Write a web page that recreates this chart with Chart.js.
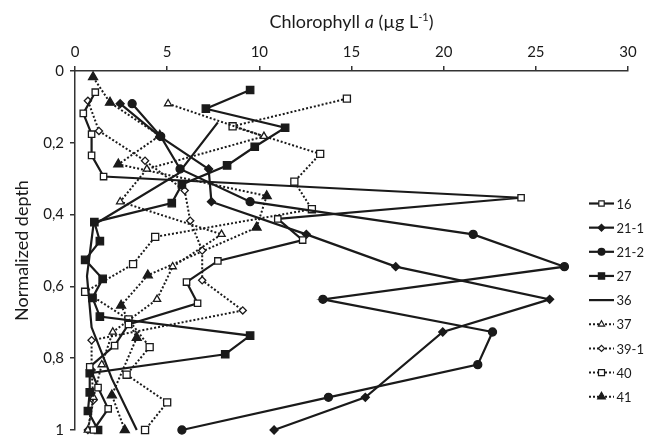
<!DOCTYPE html>
<html>
<head>
<meta charset="utf-8">
<script src="https://cdn.jsdelivr.net/npm/chart.js@4.4.1/dist/chart.umd.min.js"></script>
<style>
  html, body { margin: 0; padding: 0; background: #fff; }
</style>
</head>
<body>
<canvas id="perfil" width="645" height="445"></canvas>
<script>
// Profundidade normalizada (eixo y) e clorofila a (eixo x) de cada perfil
const nomes = ['16', '21-1', '21-2', '27', '36', '37', '39-1', '40', '41'];

const prof16 = [0.059, 0.118, 0.176, 0.235, 0.294, 0.353, 0.412, 0.471, 0.529, 0.588, 0.647, 0.706, 0.765, 0.824, 0.882, 0.941, 1];
const chl16 = [1.1, 0.45, 0.9, 0.9, 1.55, 24.2, 11.0, 12.35, 7.75, 6.05, 6.65, 2.9, 2.15, 0.8, 1.25, 1.8, 1.0];

const prof21a = [0.091, 0.182, 0.273, 0.364, 0.455, 0.545, 0.636, 0.727, 0.909, 1];
const chl21a = [2.45, 4.6, 7.25, 7.4, 12.55, 17.4, 25.75, 19.95, 15.75, 10.8];

const prof21b = [0.091, 0.182, 0.273, 0.364, 0.455, 0.545, 0.636, 0.727, 0.818, 0.909, 1];
const chl21b = [3.1, 4.65, 5.7, 9.5, 21.6, 26.55, 13.45, 22.65, 21.85, 13.75, 5.8];

const prof27 = [0.053, 0.105, 0.158, 0.211, 0.263, 0.316, 0.368, 0.421, 0.474, 0.526, 0.579, 0.632, 0.684, 0.737, 0.789, 0.842, 0.895, 0.947, 1];
const chl27 = [9.5, 7.1, 11.4, 9.75, 8.25, 5.8, 5.25, 1.05, 1.35, 0.55, 1.5, 0.95, 1.35, 9.5, 8.15, 0.8, 0.8, 0.7, 1.25];

const prof36 = [0.143, 0.286, 0.429, 0.571, 0.714, 0.857, 1];
const chl36 = [7.75, 5.6, 1.0, 0.65, 0.9, 2.0, 3.35];

const prof37 = [0.091, 0.182, 0.273, 0.364, 0.455, 0.545, 0.636, 0.727, 0.818, 0.909, 1];
const chl37 = [5.05, 10.25, 3.9, 2.45, 7.95, 5.3, 4.45, 2.05, 1.45, 1.0, 0.7];

const prof39 = [0.083, 0.167, 0.25, 0.333, 0.417, 0.5, 0.583, 0.667, 0.75, 0.833, 0.917, 1];
const chl39 = [0.7, 1.3, 3.8, 5.95, 6.25, 6.9, 6.9, 9.1, 0.9, 0.9, 1.0, 0.7];

const prof40 = [0.077, 0.154, 0.231, 0.308, 0.385, 0.462, 0.538, 0.615, 0.692, 0.769, 0.846, 0.923, 1];
const chl40 = [14.75, 8.55, 13.3, 11.9, 12.85, 4.35, 3.15, 0.55, 2.9, 4.05, 2.8, 5.0, 3.8];

const prof41 = [0.017, 0.088, 0.18, 0.26, 0.348, 0.436, 0.569, 0.653, 0.743, 0.903, 1];
const chl41 = [0.98, 1.9, 4.6, 2.35, 10.4, 9.85, 3.95, 2.5, 3.35, 2.0, 2.7];

const fonte = 'Lato, "Liberation Sans", sans-serif';
const preto = '#1a1a1a';

function pontos(chl, prof) {
    return chl.map((v, i) => ({ x: v, y: prof[i] }));
}

function serie(nome, chl, prof, estilo, raio, cheio, pontilhado) {
    return {
        label: nome,
        data: pontos(chl, prof),
        showLine: true,
        borderColor: preto,
        borderWidth: pontilhado ? 2 : 2.2,
        borderDash: pontilhado ? [2, 2] : [],
        pointStyle: estilo,
        pointRadius: raio,
        pointHoverRadius: raio,
        pointBackgroundColor: cheio ? preto : '#fff',
        pointBorderColor: preto,
        pointBorderWidth: 1.3,
        clip: false
    };
}

const dataPerfil = {
    datasets: [
        serie(nomes[0], chl16, prof16, 'rect', 4.5, false, false),
        serie(nomes[1], chl21a, prof21a, 'rectRot', 4, true, false),
        serie(nomes[2], chl21b, prof21b, 'circle', 4, true, false),
        serie(nomes[3], chl27, prof27, 'rect', 5.2, true, false),
        serie(nomes[4], chl36, prof36, 'line', 0, true, false),
        serie(nomes[5], chl37, prof37, 'triangle', 4.2, false, true),
        serie(nomes[6], chl39, prof39, 'rectRot', 3.6, false, true),
        serie(nomes[7], chl40, prof40, 'rect', 5, false, true),
        serie(nomes[8], chl41, prof41, 'triangle', 5.2, true, true)
    ]
};

// legenda com amostra de linha + marcador, como no original
const legendaPerfil = {
    id: 'legendaPerfil',
    afterDraw(chart) {
        const ctx = chart.ctx;
        ctx.save();
        chart.data.datasets.forEach((ds, i) => {
            const y = 203.5 + i * 24.15;
            ctx.strokeStyle = preto;
            ctx.lineWidth = ds.borderWidth;
            ctx.setLineDash(ds.borderDash);
            ctx.beginPath();
            ctx.moveTo(589, y);
            ctx.lineTo(614, y);
            ctx.stroke();
            ctx.setLineDash([]);
            if (ds.pointRadius > 0) {
                ctx.fillStyle = ds.pointBackgroundColor;
                ctx.strokeStyle = ds.pointBorderColor;
                ctx.lineWidth = 1.2;
                Chart.helpers.drawPoint(ctx, {
                    pointStyle: ds.pointStyle,
                    radius: ds.pointRadius * 0.85,
                    borderWidth: 1.2,
                    rotation: 0
                }, 601.5, y);
            }
            ctx.fillStyle = preto;
            ctx.font = '13px ' + fonte;
            ctx.textBaseline = 'middle';
            ctx.textAlign = 'left';
            ctx.fillText(ds.label, 616.5, y + 1);
        });

        // título do eixo x com "a" em itálico e expoente
        const partes = [
            { t: 'Chlorophyll ', f: '18px ' + fonte, dy: 0 },
            { t: 'a', f: 'italic 18px ' + fonte, dy: 0 },
            { t: ' (\u00b5g L', f: '18px ' + fonte, dy: 0 },
            { t: '-1', f: '11px ' + fonte, dy: -7 },
            { t: ')', f: '18px ' + fonte, dy: 0 }
        ];
        let total = 0;
        partes.forEach(p => { ctx.font = p.f; p.w = ctx.measureText(p.t).width; total += p.w; });
        const area = chart.chartArea;
        let x = (area.left + area.right) / 2 - total / 2;
        ctx.textBaseline = 'alphabetic';
        partes.forEach(p => {
            ctx.font = p.f;
            ctx.fillText(p.t, x, 28 + p.dy);
            x += p.w;
        });
        ctx.restore();
    }
};

const configPerfil = {
    type: 'scatter',
    data: dataPerfil,
    options: {
        responsive: false,
        animation: false,
        layout: { padding: { top: 0, left: 0, right: 17, bottom: 12 } },
        plugins: {
            legend: { display: false },
            tooltip: { enabled: false }
        },
        scales: {
            x: {
                type: 'linear',
                position: 'top',
                min: 0,
                max: 30,
                ticks: { stepSize: 5, color: preto, padding: 5, font: { family: fonte, size: 15 } },
                grid: { display: true, drawOnChartArea: false, drawTicks: true, tickLength: 5, color: '#333', lineWidth: 1.5 },
                border: { display: true, color: '#333', width: 1.5 },
                afterFit(s) { s.height = 71; }
            },
            y: {
                type: 'linear',
                reverse: true,
                min: 0,
                max: 1,
                ticks: {
                    stepSize: 0.2,
                    color: preto,
                    padding: 6,
                    font: { family: fonte, size: 15 },
                    callback: v => String(Math.round(v * 10) / 10).replace('.', ',')
                },
                grid: { display: true, drawOnChartArea: false, drawTicks: true, tickLength: 5, color: '#333', lineWidth: 1.5 },
                border: { display: true, color: '#333', width: 1.5 },
                title: { display: true, text: 'Normalized depth', color: preto, font: { family: fonte, size: 18 }, padding: { top: 11 } },
                afterFit(s) { s.width = 75; }
            }
        }
    },
    plugins: [legendaPerfil]
};

const perfil = new Chart(document.getElementById('perfil'), configPerfil);
</script>
</body>
</html>
